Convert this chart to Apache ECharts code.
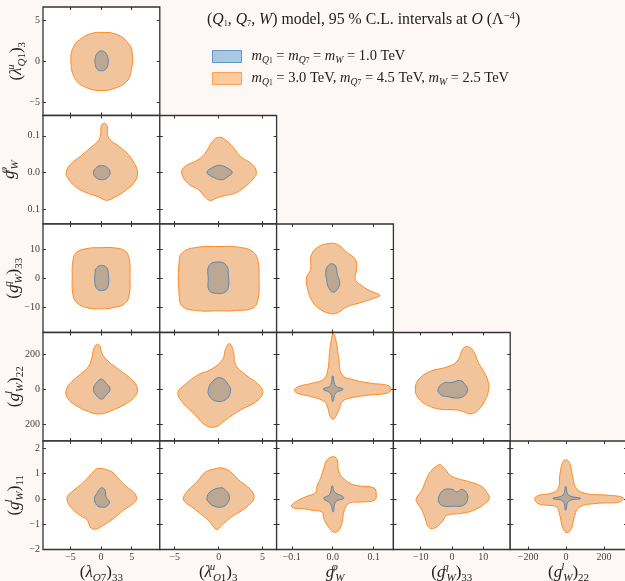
<!DOCTYPE html>
<html>
<head>
<meta charset="utf-8">
<script src="https://cdn.jsdelivr.net/npm/echarts@6/dist/echarts.min.js"></script>
<style>
  html, body { margin: 0; padding: 0; background: #fdf8f6; }
  #chart { width: 625px; height: 581px; }
</style>
</head>
<body>
<div id="chart"></div>
<script>
// ---- axis variables ----
const colVars = ['lamQ7_33', 'lamQ1_3', 'gphiW', 'gqW_33', 'glW_22']
const rowVars = ['lamQ1_3', 'gphiW', 'gqW_33', 'glW_22', 'glW_11']
const colRange = [[-9.5, 9.6], [-6.7, 6.6], [-0.137, 0.148], [-18.7, 18.6], [-295, 322]]
const rowRange = [[-6.6, 6.6], [-0.139, 0.155], [-18.5, 18.6], [-295, 322], [-2, 2.29]]
const colTicks = [[-5, 0, 5], [-5, 0, 5], [-0.1, 0, 0.1], [-10, 0, 10], [-200, 0, 200]]
const rowTicks = [[-5, 0, 5], [-0.1, 0, 0.1], [-10, 0, 10], [-200, 0, 200], [-2, -1, 0, 1, 2]]

// ---- 95% C.L. contours (x, y) per panel; "wide" = heavy masses, "tight" = 1 TeV ----
const wide00 = [[0,3.51],[2.55,3.27],[4.45,2.18],[5.1,0.97],[4.89,-1.26],[4.18,-2.47],[2.28,-3.27],[0,-3.56],[-2.44,-3.2],[-4.23,-2.14],[-4.93,-0.05],[-4.5,1.77],[-2.98,2.9],[-1.52,3.39]]
const tight00 = [[0,1.25],[0.75,1.0],[1.15,0.2],[1.0,-0.7],[0.5,-1.1],[0,-1.15],[-0.55,-1.05],[-0.95,-0.4],[-0.95,0.4],[-0.6,1.0]]

const wide10 = [[0.49,0.134],[1.03,0.125],[1.03,0.107],[1.47,0.089],[2.82,0.073],[4.45,0.049],[5.54,0.022],[5.97,-0.001],[5.54,-0.023],[4.18,-0.046],[2.28,-0.066],[1.03,-0.075],[0.49,-0.073],[-0.7,-0.064],[-2.6,-0.053],[-4.23,-0.037],[-5.48,-0.014],[-5.7,0.001],[-5.05,0.022],[-3.42,0.044],[-1.79,0.067],[-0.43,0.087],[-0.05,0.105],[0.0,0.125]]
const tight10 = [[0.11,0.019],[0.92,0.015],[1.47,0.001],[1.03,-0.014],[0.11,-0.019],[-0.81,-0.014],[-1.25,0.001],[-0.7,0.015]]

const wide20 = [[-0.05,10.5],[2.28,10.4],[3.91,9.36],[4.61,6.5],[4.72,0.23],[4.61,-5.48],[3.91,-8.56],[2.0,-10.0],[-0.05,-10.4],[-2.33,-10.0],[-3.96,-8.3],[-4.61,-5.48],[-4.72,0.23],[-4.61,5.93],[-4.07,8.8],[-2.33,10.2]]
const tight20 = [[0.11,4.45],[0.92,3.66],[1.19,1.37],[1.19,-2.05],[0.81,-3.77],[0.11,-4.1],[-0.6,-3.77],[-0.98,-2.05],[-0.98,1.94],[-0.7,3.66]]

const wide30 = [[-0.6,255],[-0.16,243],[0.11,206],[0.92,167],[2.55,120],[4.45,72],[5.54,34],[5.97,-4],[5.54,-42],[4.18,-80],[2.0,-118],[-0.16,-141],[-2.06,-128],[-4.23,-90],[-5.48,-51],[-5.7,-4],[-4.77,43],[-3.15,91],[-2.06,129],[-1.52,177],[-1.14,234]]
const tight30 = [[0.05,57],[0.81,34],[1.47,0],[0.81,-34],[0.05,-57],[-0.81,-34],[-1.25,0],[-0.81,34]]

const wide40 = [[-0.43,1.21],[1.74,1.07],[2.82,0.81],[4.18,0.48],[5.27,0.28],[5.81,0.02],[5.27,-0.18],[3.64,-0.45],[2.01,-0.78],[0.38,-1.04],[-0.98,-1.2],[-1.79,-1.11],[-2.23,-0.85],[-3.42,-0.65],[-4.77,-0.38],[-5.59,0.02],[-4.77,0.28],[-3.42,0.54],[-2.06,0.87],[-0.98,1.14]]
const tight40 = [[0.11,0.44],[0.65,0.35],[0.81,0.08],[1.36,-0.12],[0.92,-0.29],[0.11,-0.33],[-0.7,-0.25],[-1.09,0.02],[-0.7,0.21],[-0.27,0.38]]

const wide11 = [[0,0.096],[0.77,0.089],[1.72,0.067],[2.49,0.044],[3.84,0.022],[4.3,0.001],[4.02,-0.014],[3.07,-0.037],[1.92,-0.055],[0.77,-0.062],[-0.18,-0.068],[-0.95,-0.075],[-1.53,-0.066],[-2.3,-0.046],[-3.45,-0.03],[-4.21,-0.001],[-3.83,0.017],[-2.48,0.033],[-1.53,0.053],[-0.69,0.085]]
const tight11 = [[-1.33,0.001],[-0.76,0.013],[0.08,0.02],[0.96,0.013],[1.54,0.001],[0.96,-0.012],[0.39,-0.019],[-0.46,-0.014]]

const wide21 = [[0,10.9],[2.4,10.6],[3.95,9.0],[4.5,5.6],[4.6,-0.3],[4.5,-6.8],[3.95,-10.0],[1.9,-11.0],[0,-11.1],[-2.5,-11.0],[-4.1,-9.6],[-4.5,-5.4],[-4.5,5.6],[-4.1,8.9],[-2.5,10.6]]
const tight21 = [[0,5.6],[0.9,4.4],[1.1,1.4],[1.1,-3.1],[0.66,-4.8],[-0.26,-5.1],[-1.07,-4.1],[-1.18,-0.3],[-1.07,4.4]]

const wide31 = [[1.23,259],[1.69,213],[1.92,139],[3.07,82],[4.56,25],[5.02,-21],[4.22,-73],[2.49,-118],[0.77,-176],[-0.38,-215],[-1.53,-204],[-2.68,-146],[-4.06,-78],[-4.63,-21],[-3.83,25],[-2.33,82],[-0.95,110],[0.43,167],[0.77,225]]
const tight31 = [[-1.18,-4],[-0.72,42],[0.2,65],[1.11,25],[1.34,-15],[0.77,-61],[-0.38,-67],[-1.07,-38]]

const wide41 = [[-4.02,0.04],[-3.45,0.35],[-2.48,0.67],[-1.53,1.05],[-0.57,1.18],[0.57,1.21],[1.54,1.01],[2.3,0.74],[3.07,0.54],[3.84,0.28],[4.02,0.02],[3.64,-0.18],[2.69,-0.45],[1.72,-0.65],[0.77,-0.91],[0.19,-1.11],[-0.18,-1.21],[-0.57,-1.11],[-1.15,-0.85],[-2.1,-0.58],[-3.06,-0.32],[-3.83,-0.12]]
const tight41 = [[-1.33,0.04],[-0.95,0.28],[0.2,0.44],[0.77,0.35],[1.23,0.08],[0.96,-0.18],[0.39,-0.32],[-0.57,-0.28],[-1.15,-0.12]]

const wide22 = [[-0.006,12.0],[0.015,11.3],[0.035,8.8],[0.055,6.5],[0.058,3.08],[0.055,-0.34],[0.072,-2.6],[0.092,-4.3],[0.115,-5.8],[0.096,-7.0],[0.068,-8.3],[0.035,-9.7],[0.011,-11.8],[-0.006,-12.0],[-0.03,-10.6],[-0.05,-7.8],[-0.061,-3.8],[-0.064,0.23],[-0.054,3.08],[-0.053,7.6],[-0.038,10.5]]
const tight22 = [[-0.003,5.0],[0.007,4.2],[0.011,1.37],[0.017,-1.48],[0.011,-3.77],[0.0,-4.7],[-0.01,-3.2],[-0.015,-0.34],[-0.017,2.5],[-0.012,4.2]]

const wide32 = [[0.001,316],[0.009,263],[0.015,167],[0.023,82],[0.051,53],[0.092,34],[0.137,19],[0.142,-4],[0.133,-23],[0.092,-33],[0.043,-51],[0.023,-71],[0.015,-118],[0.002,-171],[-0.006,-157],[-0.012,-109],[-0.02,-71],[-0.054,-42],[-0.087,-23],[-0.093,-4],[-0.083,15],[-0.05,34],[-0.022,57],[-0.012,110],[-0.007,225]]
const tight32 = [[0,76],[0.007,19],[0.025,0],[0.007,-23],[0,-71],[-0.006,-23],[-0.023,0],[-0.006,19]]

const wide42 = [[-0.101,-0.28],[-0.091,-0.12],[-0.067,0.08],[-0.042,0.25],[-0.038,0.54],[-0.03,0.81],[-0.022,1.21],[-0.014,1.54],[0.002,1.67],[0.011,1.54],[0.015,1.07],[0.031,0.74],[0.055,0.54],[0.1,0.44],[0.106,0.21],[0.102,-0.05],[0.072,-0.12],[0.039,-0.18],[0.027,-0.52],[0.023,-0.91],[0.015,-1.24],[0.002,-1.31],[-0.01,-1.11],[-0.022,-0.78],[-0.026,-0.52],[-0.05,-0.45],[-0.075,-0.38],[-0.095,-0.36]]
const tight42 = [[-0.001,0.52],[0.004,0.28],[0.027,0.04],[0.007,-0.12],[0.001,-0.52],[-0.006,-0.18],[-0.022,0.02],[-0.008,0.17]]

const wide33 = [[-11.7,-4],[-10.7,53],[-6.93,101],[-1.6,126],[1.6,158],[3.7,234],[5.3,240],[6.9,215],[8.5,149],[10.1,101],[11.4,53],[11.7,-4],[10.6,-61],[8.5,-118],[5.85,-141],[3.7,-128],[1.05,-118],[-3.74,-114],[-8.0,-90],[-10.7,-51]]
const tight33 = [[-4.47,-4],[-2.68,34],[0,38],[2.65,49],[4.25,25],[5.0,-4],[3.93,-38],[1.6,-51],[-1.6,-42],[-3.51,-33]]

const wide43 = [[-3.74,1.36],[-2.46,1.21],[-0.54,0.94],[1.6,0.81],[5.85,0.67],[9.58,0.48],[11.4,0.21],[11.9,0.02],[10.6,-0.18],[6.9,-0.45],[2.65,-0.58],[-1.6,-0.65],[-3.19,-0.91],[-5.88,-1.17],[-7.48,-1.11],[-8.53,-0.78],[-9.58,-0.45],[-11.2,-0.12],[-11.4,0.02],[-9.58,0.35],[-8.53,0.67],[-6.93,1.07],[-4.79,1.31]]
const tight43 = [[-4.28,0.04],[-2.68,0.35],[0,0.38],[1.6,0.28],[3.19,0.38],[4.79,0.21],[5.0,-0.01],[3.7,-0.25],[0.53,-0.29],[-2.68,-0.28],[-3.96,-0.18]]

const wide44 = [[-165,0.02],[-139,0.15],[-86,0.21],[-42,0.41],[-33,0.94],[-16,1.47],[2,1.54],[20,1.4],[37,0.81],[55,0.41],[108,0.21],[213,0.15],[301,0.05],[283,-0.12],[160,-0.18],[72,-0.32],[46,-0.65],[28,-1.17],[5,-1.33],[-16,-1.17],[-33,-0.65],[-51,-0.32],[-103,-0.25],[-148,-0.18]]
const tight44 = [[-2,0.5],[14,0.15],[76,0.02],[14,-0.09],[-2,-0.45],[-16,-0.09],[-69,0.02],[-16,0.15]]

// panel table: [row, col, wide contour, tight contour]
const panels = [
  [0, 0, wide00, tight00],
  [1, 0, wide10, tight10], [1, 1, wide11, tight11],
  [2, 0, wide20, tight20], [2, 1, wide21, tight21], [2, 2, wide22, tight22],
  [3, 0, wide30, tight30], [3, 1, wide31, tight31], [3, 2, wide32, tight32], [3, 3, wide33, tight33],
  [4, 0, wide40, tight40], [4, 1, wide41, tight41], [4, 2, wide42, tight42], [4, 3, wide43, tight43], [4, 4, wide44, tight44]
]

const F = 'Liberation Serif'
const rich = {
  p: { fontFamily: F, fontSize: 17, lineHeight: 22, color: '#222' },
  m: { fontFamily: F, fontSize: 17, fontStyle: 'italic', lineHeight: 22, color: '#222' },
  s: { fontFamily: F, fontSize: 11, fontStyle: 'italic', lineHeight: 12, verticalAlign: 'bottom', color: '#222' },
  n: { fontFamily: F, fontSize: 11, lineHeight: 12, verticalAlign: 'bottom', color: '#222' },
  u: { fontFamily: F, fontSize: 11, fontStyle: 'italic', lineHeight: 12, verticalAlign: 'top', width: 1, color: '#222' }
}
const varLabel = {
  lamQ7_33: '{p|(}{m|λ}{s|Q}{n|7}{p|)}{n|33}',
  lamQ1_3: '{p|(}{m|λ}{u|u}{s|Q}{n|1}{p|)}{n|3}',
  gphiW: '{m|g}{u|φ}{s|W}',
  gqW_33: '{p|(}{m|g}{u|q}{s|W}{p|)}{n|33}',
  glW_22: '{p|(}{m|g}{u|l}{s|W}{p|)}{n|22}',
  glW_11: '{p|(}{m|g}{u|l}{s|W}{p|)}{n|11}'
}

function tickText(v, dec, dropMinus) {
  let s = dec ? Math.abs(v).toFixed(dec) : String(Math.abs(v))
  if (v < 0 && !dropMinus) s = '−' + s
  return s
}
const colDec = [0, 0, 1, 0, 0]
const rowDec = [0, 1, 0, 0, 0]
const rowDropMinus = [false, true, false, true, false]
const rowNameGap = [15, 22, 18.5, 17.5, 17]

const cellW = 116.8
const cellH = 108.5
const frame = '#333'
const wideFill = 'rgb(241,196,155)'
const wideEdge = '#ff8a22'
const tightFill = 'rgb(187,167,146)'
const tightEdge = '#5b87b3'

let grids = []
let xAxes = []
let yAxes = []
let series = []

function contourSeries(name, pts, gi, fill, edge) {
  return {
    type: 'custom',
    name: name,
    xAxisIndex: 2 * gi,
    yAxisIndex: 2 * gi,
    coordinateSystem: 'cartesian2d',
    clip: true,
    itemStyle: { color: fill, borderColor: edge },
    data: pts,
    renderItem: (params, api) => {
      if (params.dataIndex !== 0) return null
      return {
        type: 'polygon',
        shape: { points: pts.map(p => api.coord(p)), smooth: 0.45 },
        style: { fill: fill, stroke: edge, lineWidth: 1 }
      }
    }
  }
}

panels.forEach((pn, gi) => {
  const [r, c, wide, tight] = pn
  grids.push({
    left: 43 + cellW * c,
    top: 7 + cellH * r,
    width: cellW,
    height: cellH,
    outerBoundsMode: 'none',
    containLabel: false,
    show: true,
    backgroundColor: '#fff',
    borderColor: frame,
    borderWidth: 1.3
  })
  const tick = (vals) => ({ show: true, inside: true, length: 3, customValues: vals, lineStyle: { color: frame, width: 1 } })
  const bottom = r === 4
  const left = c === 0
  xAxes.push({
    type: 'value', gridIndex: gi, position: 'bottom',
    min: colRange[c][0], max: colRange[c][1],
    axisLine: { show: false, onZero: false }, splitLine: { show: false },
    axisTick: tick(colTicks[c]),
    axisLabel: {
      show: bottom, customValues: colTicks[c], margin: 3,
      fontFamily: F, fontSize: 10, color: '#444',
      formatter: v => tickText(v, colDec[c], false)
    },
    name: bottom ? varLabel[colVars[c]] : '',
    nameLocation: 'middle', nameGap: 12, nameMoveOverlap: false,
    nameTextStyle: { rich: rich }
  })
  xAxes.push({
    type: 'value', gridIndex: gi, position: 'top',
    min: colRange[c][0], max: colRange[c][1],
    axisLine: { show: false, onZero: false }, splitLine: { show: false },
    axisTick: tick(colTicks[c]), axisLabel: { show: false }
  })
  yAxes.push({
    type: 'value', gridIndex: gi, position: 'left',
    min: rowRange[r][0], max: rowRange[r][1],
    axisLine: { show: false, onZero: false }, splitLine: { show: false },
    axisTick: tick(rowTicks[r]),
    axisLabel: {
      show: left, customValues: rowTicks[r], margin: 3,
      fontFamily: F, fontSize: 10, color: '#444',
      formatter: v => tickText(v, rowDec[r], rowDropMinus[r])
    },
    name: left ? varLabel[rowVars[r]] : '',
    nameLocation: 'middle', nameGap: rowNameGap[r], nameRotate: 90, nameMoveOverlap: false,
    nameTextStyle: { rich: rich }
  })
  yAxes.push({
    type: 'value', gridIndex: gi, position: 'right',
    min: rowRange[r][0], max: rowRange[r][1],
    axisLine: { show: false, onZero: false }, splitLine: { show: false },
    axisTick: tick(rowTicks[r]), axisLabel: { show: false }
  })
  series.push(contourSeries('heavy', wide, gi, wideFill, wideEdge))
  series.push(contourSeries('light', tight, gi, tightFill, tightEdge))
})

function textRich(size) {
  return {
    r: { fontFamily: F, fontSize: size, lineHeight: 17, color: '#222' },
    i: { fontFamily: F, fontSize: size, fontStyle: 'italic', lineHeight: 17, color: '#222' },
    b: { fontFamily: F, fontSize: size * 0.67, fontStyle: 'italic', lineHeight: 9, verticalAlign: 'bottom', color: '#222' },
    c: { fontFamily: F, fontSize: size * 0.52, lineHeight: 7, verticalAlign: 'bottom', color: '#222' },
    t: { fontFamily: F, fontSize: size * 0.68, lineHeight: 9, verticalAlign: 'top', color: '#222' }
  }
}
const titleText = '{r|(}{i|Q}{c|1}{r|, }{i|Q}{c|7}{r|, }{i|W}{r|) model, 95 % C.L. intervals at }{i|O}{r| (Λ}{t|−4}{r|)}'
const legendText = {
  light: '{i|m}{b|Q}{c|1}{r| = }{i|m}{b|Q}{c|7}{r| = }{i|m}{b|W}{r| = 1.0 TeV}',
  heavy: '{i|m}{b|Q}{c|1}{r| = 3.0 TeV, }{i|m}{b|Q}{c|7}{r| = 4.5 TeV, }{i|m}{b|W}{r| = 2.5 TeV}'
}

const chart = echarts.init(document.getElementById('chart'))
chart.setOption({
  backgroundColor: '#fdf8f6',
  animation: false,
  title: {
    text: titleText, left: 202, top: 6,
    textStyle: { fontWeight: 'normal', rich: textRich(15.8) }
  },
  legend: {
    orient: 'vertical', left: 207, top: 44,
    itemWidth: 29, itemHeight: 12, itemGap: 6, icon: 'rect',
    selectedMode: false,
    data: [
      { name: 'light', itemStyle: { color: '#a8c8e1', borderColor: '#5f97c8', borderWidth: 1 } },
      { name: 'heavy', itemStyle: { color: '#fecb9f', borderColor: '#ffa050', borderWidth: 1 } }
    ],
    formatter: name => legendText[name],
    textStyle: { rich: textRich(14.5), padding: [0, 0, 0, 5] }
  },
  grid: grids,
  xAxis: xAxes,
  yAxis: yAxes,
  series: series
})
</script>
</body>
</html>
